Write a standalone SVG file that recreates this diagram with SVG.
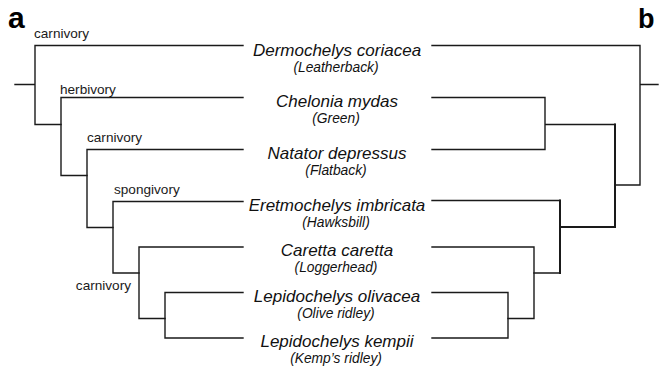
<svg xmlns="http://www.w3.org/2000/svg" width="664" height="369" viewBox="0 0 664 369">
<style>
.ln{fill:none;stroke:#1a1a1a;stroke-width:1.4;stroke-linecap:square}
.thk{stroke-width:2}
.sp{font-family:"Liberation Sans",Arial,sans-serif;font-style:italic;font-size:17px;fill:#111;text-anchor:middle}
.cm{font-family:"Liberation Sans",Arial,sans-serif;font-style:italic;font-size:13.8px;fill:#111;text-anchor:middle}
.lb{font-family:"Liberation Sans",Arial,sans-serif;font-size:13.6px;fill:#1a1a1a}
.pn{font-family:"Liberation Sans",Arial,sans-serif;font-weight:bold;fill:#000}
</style>
<rect width="664" height="369" fill="#fff"/>
<text class="pn" x="8" y="28" font-size="30">a</text>
<text class="pn" x="638" y="28" font-size="27">b</text>
<g id="connectors">
<path class="ln" d="M15 84.5H35M35 45.5V124.5M35 45.5H243M35 124.5H61"/>
<path class="ln" d="M61 97.5V175.5M61 97.5H243M61 175.5H87"/>
<path class="ln" d="M87 149.5V227.5M87 149.5H243M87 227.5H113"/>
<path class="ln" d="M113 201.5V273M113 201.5H243M113 273H139"/>
<path class="ln" d="M139 247V318.5M139 247H243M139 318.5H165"/>
<path class="ln" d="M165 292.5V338M165 292.5H243M165 338H243"/>
<path class="ln" d="M432 45.5H640M640 45.5V185M640 84.5H658M615 185H640"/>
<path class="ln" d="M432 97.5H545M432 149.5H545M545 97.5V149.5M545 124.5H615"/>
<path class="ln thk" d="M615 124.5V227M560 227H615"/>
<path class="ln" d="M432 200.5H560M534 273H560"/>
<path class="ln thk" d="M560 200.5V273"/>
<path class="ln" d="M432 247H534M534 247V318.5M508 318.5H534"/>
<path class="ln" d="M432 292.5H508M432 338H508M508 292.5V338"/>
</g>
<g id="labels">
<text class="lb" x="34" y="38">carnivory</text>
<text class="lb" x="60" y="94">herbivory</text>
<text class="lb" x="87" y="142">carnivory</text>
<text class="lb" x="114" y="194">spongivory</text>
<text class="lb" x="131" y="290" text-anchor="end">carnivory</text>
</g>
<g id="dermochelys"><text class="sp" x="337" y="56">Dermochelys coriacea</text><text class="cm" x="336" y="71.5">(Leatherback)</text></g>
<g id="chelonia"><text class="sp" x="337" y="107">Chelonia mydas</text><text class="cm" x="336" y="122.5">(Green)</text></g>
<g id="natator"><text class="sp" x="337" y="159">Natator depressus</text><text class="cm" x="336" y="174.5">(Flatback)</text></g>
<g id="eretmochelys"><text class="sp" x="337" y="210.5">Eretmochelys imbricata</text><text class="cm" x="336" y="226.5">(Hawksbill)</text></g>
<g id="caretta"><text class="sp" x="337" y="256">Caretta caretta</text><text class="cm" x="336" y="272">(Loggerhead)</text></g>
<g id="lepidochelys-olivacea"><text class="sp" x="337" y="301.5">Lepidochelys olivacea</text><text class="cm" x="336" y="317.5">(Olive ridley)</text></g>
<g id="lepidochelys-kempii"><text class="sp" x="337" y="347">Lepidochelys kempii</text><text class="cm" x="336" y="363">(Kemp’s ridley)</text></g>
</svg>
